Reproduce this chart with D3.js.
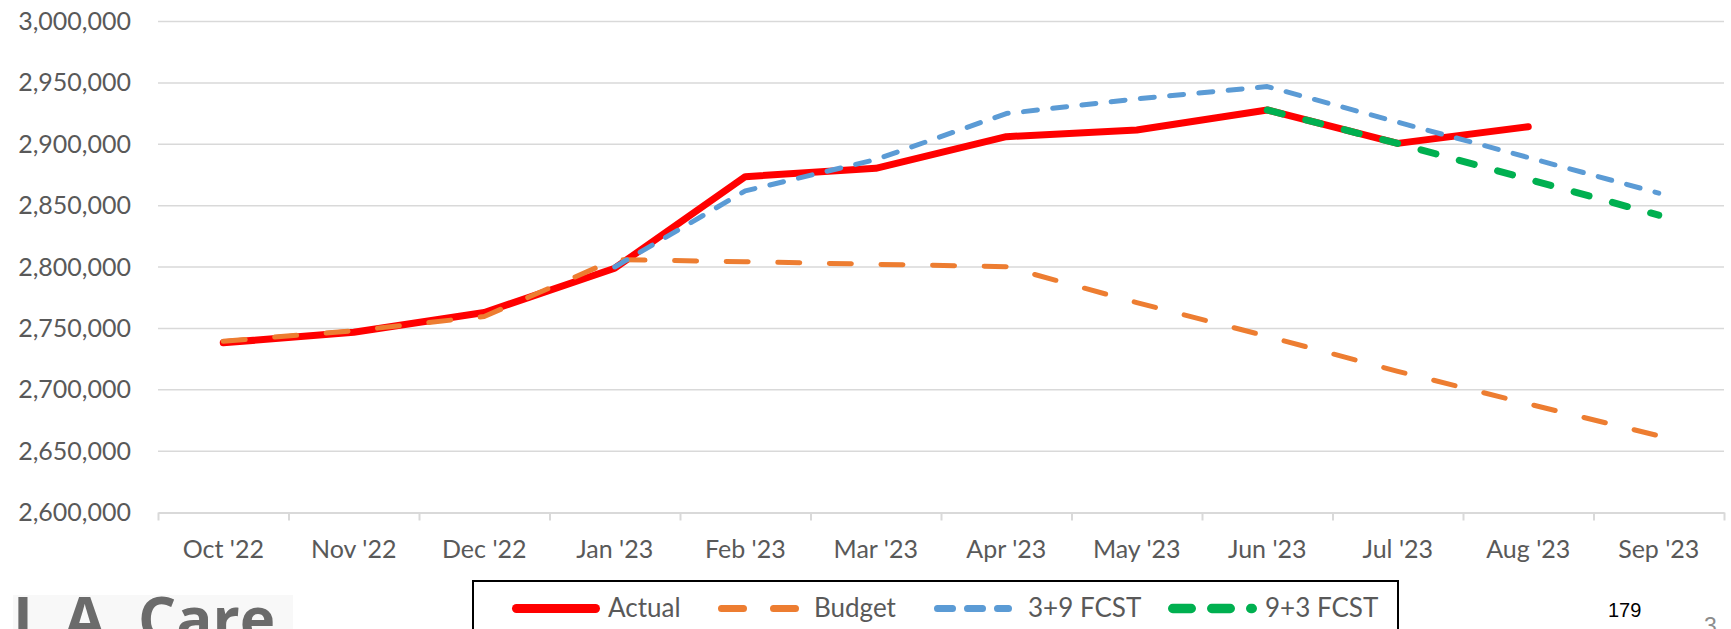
<!DOCTYPE html>
<html>
<head>
<meta charset="utf-8">
<script src="https://cdn.jsdelivr.net/npm/d3@7"></script>
<style>
  body { margin: 0; background: #fff; }
  svg { display: block; font-family: Lato, "Open Sans", sans-serif; }
</style>
</head>
<body>
<svg id="chart" width="1731" height="629"></svg>
<script>
// months on the x axis
const months = ["Oct '22", "Nov '22", "Dec '22", "Jan '23", "Feb '23", "Mar '23",
                "Apr '23", "May '23", "Jun '23", "Jul '23", "Aug '23", "Sep '23"];

// series (null = no point)
const actual = [2738300, 2746800, 2762900, 2799000, 2873600, 2880400,
                2906200, 2911600, 2927900, 2900700, 2914300, null];
const budget = [2739500, 2748100, 2759700, 2806000, 2804300, 2802200,
                2800300, 2771000, 2743500, 2715000, 2688500, 2662500];
const fcst39 = [null, null, null, 2800000, 2862000, 2887500,
                2925000, 2937000, 2947000, 2918000, 2889200, 2860200];
const fcst93 = [null, null, null, null, null, null,
                null, null, 2927900, 2900700, 2871500, 2842200];

const yTicks = [2600000, 2650000, 2700000, 2750000, 2800000,
                2850000, 2900000, 2950000, 3000000];

const seriesNames = ["Actual", "Budget", "3+9 FCST", "9+3 FCST"];

const svg = d3.select("#chart");
const plotL = 158, plotR = 1724, plotT = 21.5, plotB = 512.5;

const x = d3.scaleBand().domain(months).range([plotL, plotR]);
const y = d3.scaleLinear().domain([2600000, 3000000]).range([plotB, plotT]);
const cx = i => x(months[i]) + x.bandwidth() / 2;

// horizontal gridlines
svg.append("g")
  .selectAll("line")
  .data(yTicks.slice(1))
  .join("line")
  .attr("x1", plotL).attr("x2", plotR)
  .attr("y1", d => y(d)).attr("y2", d => y(d))
  .attr("stroke", "#d9d9d9")
  .attr("stroke-width", 1.5);

// y labels
const yAxis = svg.append("g")
  .attr("transform", `translate(${plotL},0)`)
  .call(d3.axisLeft(y).tickValues(yTicks).tickSize(0).tickPadding(27).tickFormat(d3.format(",")));
yAxis.attr("font-family", null).attr("font-size", 25);
yAxis.select(".domain").remove();
yAxis.selectAll("text").attr("fill", "#595959");

// bottom axis line + category boundary ticks
const xi = d3.scaleLinear().domain([0, months.length]).range([plotL, plotR]);
const xb = svg.append("g")
  .attr("transform", `translate(0,${plotB})`)
  .call(d3.axisBottom(xi).ticks(months.length).tickSize(8).tickSizeOuter(0).tickFormat(""));
xb.selectAll("line, path").attr("stroke", "#d9d9d9").attr("stroke-width", 2);

// month labels
const xAxis = svg.append("g")
  .attr("transform", `translate(0,${plotB})`)
  .call(d3.axisBottom(x).tickSize(0).tickPadding(28));
xAxis.attr("font-family", null).attr("font-size", 25);
xAxis.select(".domain").remove();
xAxis.selectAll("text").attr("fill", "#595959");

// lines
const styles = [
  { data: actual, color: "#ff0000", width: 7,   dash: null },
  { data: budget, color: "#ed7d31", width: 5,   dash: "22,29.6" },
  { data: fcst39, color: "#5b9bd5", width: 5,   dash: "14,15.4" },
  { data: fcst93, color: "#00b050", width: 7,   dash: "15.5,24.2" }
];

const line = d3.line().x(p => cx(p[0])).y(p => y(p[1]));

styles.forEach(s => {
  // only the defined points, so the dash pattern starts at the first one
  const pts = s.data.map((v, i) => v == null ? null : [i, v]).filter(p => p);
  svg.append("path")
    .attr("d", line(pts))
    .attr("fill", "none")
    .attr("stroke", s.color)
    .attr("stroke-width", s.width)
    .attr("stroke-linecap", "round")
    .attr("stroke-linejoin", "round")
    .attr("stroke-dasharray", s.dash);
});

// legend
svg.append("rect")
  .attr("x", 473).attr("y", 581)
  .attr("width", 925).attr("height", 70)
  .attr("fill", "#fff")
  .attr("stroke", "#000")
  .attr("stroke-width", 2);

const legendItems = [
  { x0: 512,  x1: 600,  tx: 608,  w: 9,   dash: null },
  { x0: 718,  x1: 799,  tx: 814,  w: 7,   dash: "22,30" },
  { x0: 934,  x1: 1012, tx: 1028, w: 7,   dash: "15,15" },
  { x0: 1168, x1: 1257, tx: 1265, w: 9.5, dash: "18.5,20.5" }
];
const ly = 608.5;
legendItems.forEach((it, k) => {
  svg.append("line")
    .attr("x1", it.x0 + it.w / 2).attr("x2", it.x1 - it.w / 2)
    .attr("y1", ly).attr("y2", ly)
    .attr("stroke", styles[k].color)
    .attr("stroke-width", it.w)
    .attr("stroke-linecap", "round")
    .attr("stroke-dasharray", it.dash);
  svg.append("text")
    .attr("x", it.tx).attr("y", 617)
    .attr("font-size", 26)
    .attr("fill", "#595959")
    .text(seriesNames[k]);
});

// logo in the bottom-left corner
svg.append("rect")
  .attr("x", 13).attr("y", 595)
  .attr("width", 280).attr("height", 40)
  .attr("fill", "#f8f8f8");
svg.append("text")
  .attr("x", 13).attr("y", 641)
  .attr("font-family", "'Open Sans', sans-serif")
  .attr("font-weight", 700)
  .attr("font-size", 60)
  .attr("fill", "#6b6b6b")
  .text("L.A. Care");

// page numbers
svg.append("text")
  .attr("x", 1608).attr("y", 617)
  .attr("font-family", "'Liberation Sans', Arial, sans-serif")
  .attr("font-size", 20)
  .attr("fill", "#000")
  .text("179");
svg.append("text")
  .attr("x", 1704).attr("y", 634)
  .attr("font-family", "'Liberation Sans', Arial, sans-serif")
  .attr("font-size", 23)
  .attr("fill", "#8c8c8c")
  .text("3");
</script>
</body>
</html>
